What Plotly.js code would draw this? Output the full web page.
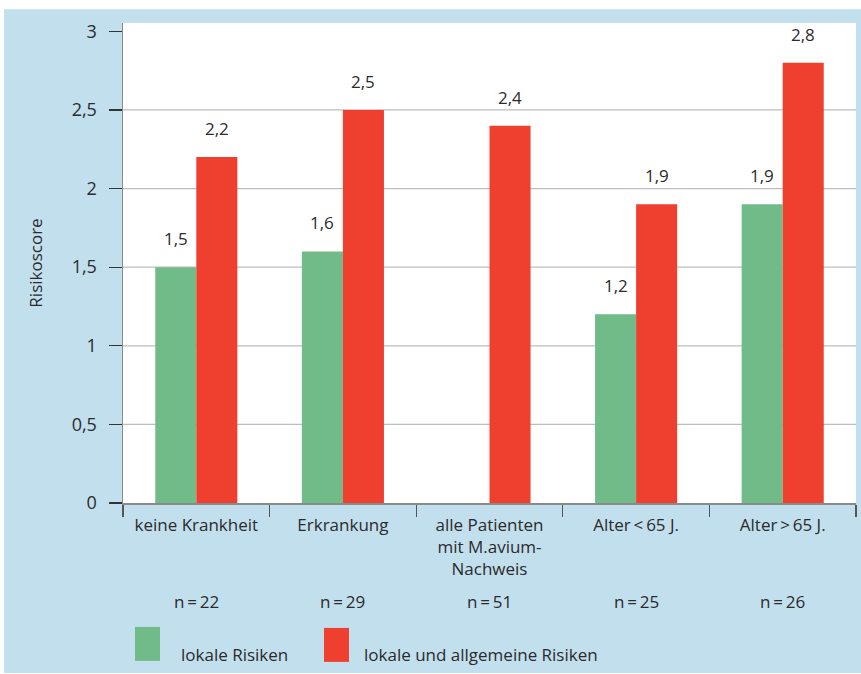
<!DOCTYPE html>
<html><head><meta charset="utf-8">
<script src="https://cdn.plot.ly/plotly-3.0.1.min.js"></script>
<style>html,body{margin:0;padding:0;background:#fff;}#chart{width:861px;height:674px;}</style>
</head><body><div id="chart"></div>
<script>
const categories = ["keine Krankheit", "Erkrankung", "alle Patienten<br>mit M.avium-<br>Nachweis", "Alter\u2009<\u200965 J.", "Alter\u2009>\u200965 J."];
const nLabels = ["n\u2009=\u200922", "n\u2009=\u200929", "n\u2009=\u200951", "n\u2009=\u200925", "n\u2009=\u200926"];
const seriesNames = ["lokale Risiken", "lokale und allgemeine Risiken"];
const lokal = [1.5, 1.6, null, 1.2, 1.9];
const lokalAllgemein = [2.2, 2.5, 2.4, 1.9, 2.8];
const yTicks = [0, 0.5, 1, 1.5, 2, 2.5, 3];
const gridVals = [0.5, 1, 1.5, 2, 2.5];

const GREEN = "#70bb87";
const RED = "#ef402f";
const BLUE = "#c2dfee";
const TXT = "#2b2b2b";
const FONT = "Open Sans, Noto Sans, sans-serif";
const FS = 17;

const traces = [
  {type: "bar", name: seriesNames[0], x: categories, y: lokal, marker: {color: GREEN}, showlegend: false, hoverinfo: "skip"},
  {type: "bar", name: seriesNames[1], x: categories, y: lokalAllgemein, marker: {color: RED}, showlegend: false, hoverinfo: "skip"}
];

const fmt = v => v.toFixed(1).replace(".", ",");
const annotations = [];
[lokal, lokalAllgemein].forEach((arr, si) => {
  arr.forEach((v, i) => {
    if (v === null) return;
    annotations.push({x: i, y: v, xref: "x", yref: "y", text: fmt(v), showarrow: false,
      xshift: si === 0 ? -20.5 : 20.5, yshift: 15, yanchor: "bottom",
      font: {family: FONT, size: FS, color: TXT}});
  });
});
nLabels.forEach((t, i) => {
  annotations.push({x: i, y: -0.206, xref: "x", yref: "paper", text: t, showarrow: false,
    yanchor: "middle", font: {family: FONT, size: FS, color: TXT}});
});
// legend texts
const PW = 733, PH = 480.3, L = 123, B = 503;
const px = x => (x - L) / PW;
const py = y => (B - y) / PH;
annotations.push({x: px(179), y: py(655), xref: "paper", yref: "paper", text: seriesNames[0], showarrow: false,
  xanchor: "left", yanchor: "middle", font: {family: FONT, size: FS, color: TXT}});
annotations.push({x: px(362), y: py(655), xref: "paper", yref: "paper", text: seriesNames[1], showarrow: false,
  xanchor: "left", yanchor: "middle", font: {family: FONT, size: FS, color: TXT}});

const shapes = [
  {type: "rect", xref: "paper", yref: "paper", x0: px(4), x1: px(862), y0: py(673), y1: py(9), fillcolor: BLUE, line: {width: 0}, layer: "below"},
  {type: "rect", xref: "paper", yref: "paper", x0: 0, x1: 1, y0: 0, y1: 1, fillcolor: "#ffffff", line: {width: 0}, layer: "below"},
  {type: "rect", xref: "paper", yref: "paper", x0: px(135), x1: px(160), y0: py(661), y1: py(627), fillcolor: GREEN, line: {width: 0}},
  {type: "rect", xref: "paper", yref: "paper", x0: px(324), x1: px(349), y0: py(662), y1: py(628), fillcolor: RED, line: {width: 0}}
];
gridVals.forEach(g => shapes.push({type: "line", xref: "paper", yref: "y", x0: 0, x1: 1, y0: g, y1: g,
  line: {color: "#bdbdbd", width: 1.2}, layer: "below"}));

const layout = {
  width: 861, height: 674,
  margin: {l: 123, r: 5, t: 23, b: 171},
  paper_bgcolor: "#ffffff", plot_bgcolor: "rgba(0,0,0,0)",
  separators: ", ",
  barmode: "group", bargap: 0.44, bargroupgap: 0,
  font: {family: FONT, size: FS, color: TXT},
  xaxis: {type: "category", tickson: "boundaries", ticks: "outside", ticklen: 12, tickwidth: 1.3, tickcolor: "#555",
    showline: true, linecolor: "#8a8a8a", linewidth: 1.5, showgrid: false, fixedrange: true,
    ticklabelstandoff: 6,
    tickfont: {family: FONT, size: FS, color: TXT}},
  yaxis: {range: [0, 3.053], tickvals: yTicks, ticks: "outside", ticklen: 13, tickwidth: 1.3, tickcolor: "#333",
    showline: true, linecolor: "#8a8a8a", linewidth: 1.5, showgrid: false, zeroline: false, fixedrange: true,
    ticklabelstandoff: 8,
    tickfont: {family: FONT, size: 18, color: TXT},
    title: {text: "Risikoscore", standoff: 24, font: {family: FONT, size: 17, color: TXT}}},
  shapes: shapes,
  annotations: annotations,
  showlegend: false
};
Plotly.newPlot("chart", traces, layout, {displayModeBar: false, staticPlot: true});
</script></body></html>
